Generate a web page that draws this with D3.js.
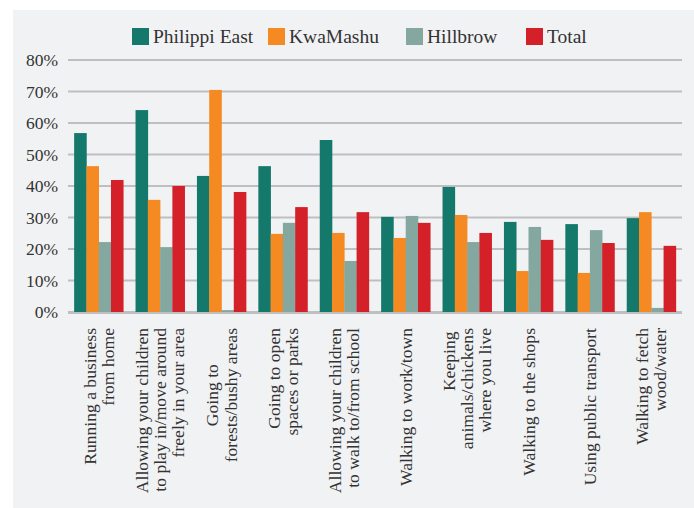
<!DOCTYPE html>
<html>
<head>
<meta charset="utf-8">
<script src="https://cdn.jsdelivr.net/npm/d3@7"></script>
<style>
  html, body { margin: 0; padding: 0; background: #ffffff; }
  svg { display: block; }
  text { font-family: "Liberation Serif", serif; fill: #333333; }
</style>
</head>
<body>
<svg id="chart" width="694" height="508"></svg>
<script>
// ---- data ----
const categories = [
  "Running a business from home",
  "Allowing your children to play in/move around freely in your area",
  "Going to forests/bushy areas",
  "Going to open spaces or parks",
  "Allowing your children to walk to/from school",
  "Walking to work/town",
  "Keeping animals/chickens where you live",
  "Walking to the shops",
  "Using public transport",
  "Walking to fetch wood/water"
];
const labelLines = [
  ["Running a business", "from home"],
  ["Allowing your children", "to play in/move around", "freely in your area"],
  ["Going to", "forests/bushy areas"],
  ["Going to open", "spaces or parks"],
  ["Allowing your children", "to walk to/from school"],
  ["Walking to work/town"],
  ["Keeping", "animals/chickens", "where you live"],
  ["Walking to the shops"],
  ["Using public transport"],
  ["Walking to fetch", "wood/water"]
];
const series = ["Philippi East", "KwaMashu", "Hillbrow", "Total"];
const philippiEast = [56.8, 64.1, 43.2, 46.3, 54.6, 30.2, 39.7, 28.6, 27.9, 29.8];
const kwaMashu     = [46.3, 35.6, 70.5, 24.8, 25.1, 23.5, 30.8, 13.0, 12.4, 31.7];
const hillbrow     = [22.2, 20.6, 0.6, 28.3, 16.2, 30.5, 22.2, 27.0, 26.0, 1.3];
const total        = [41.9, 40.0, 38.1, 33.3, 31.7, 28.3, 25.1, 22.9, 21.9, 21.0];
const yTicks = [0, 10, 20, 30, 40, 50, 60, 70, 80];

// ---- styles / layout ----
const colors = ["#14786b", "#f48a21", "#84a89f", "#d42028"];
const seriesValues = [philippiEast, kwaMashu, hillbrow, total];
const legendX = [132, 268, 406, 526];
const centeredLines = { "2-0": true };
const lineShift = { "6-0": 3.5 };

const svg = d3.select("#chart");
svg.append("rect").attr("x", 13).attr("y", 10).attr("width", 694 - 13).attr("height", 508 - 10)
  .attr("fill", "#f1f2f4");

const plotL = 68, plotR = 682, plotT = 60, plotB = 312;
const x = d3.scaleBand().domain(categories).range([plotL, plotR]).paddingInner(0.2).paddingOuter(0.1);
const xs = d3.scaleBand().domain(series).range([0, x.bandwidth()]);
const y = d3.scaleLinear().domain([0, 80]).range([plotB, plotT]);

// gridlines
svg.append("g").selectAll("line").data(yTicks).join("line")
  .attr("x1", plotL).attr("x2", plotR)
  .attr("y1", d => y(d)).attr("y2", d => y(d))
  .attr("stroke", "#bfbfc1").attr("stroke-width", 2.2);

// y axis labels
const yAxis = d3.axisLeft(y).tickValues(yTicks).tickFormat(d => d + "%").tickSize(0).tickPadding(10);
const ya = svg.append("g").attr("transform", `translate(${plotL},0)`).call(yAxis);
ya.select(".domain").remove();
ya.selectAll("text").attr("font-family", "Liberation Serif").attr("font-size", 17.5)
  .attr("fill", "#333").attr("dy", "0.34em");

// bars
const rows = categories.map((c, i) => ({ c, vals: series.map((s, j) => ({ s, j, v: seriesValues[j][i] })) }));
const groups = svg.append("g").selectAll("g").data(rows).join("g")
  .attr("transform", d => `translate(${x(d.c)},0)`);
groups.selectAll("rect").data(d => d.vals).join("rect")
  .attr("x", d => xs(d.s))
  .attr("width", xs.bandwidth() + 0.3)
  .attr("y", d => y(d.v))
  .attr("height", d => y(0) - y(d.v))
  .attr("fill", d => colors[d.j]);

// redraw baseline on top
svg.append("line").attr("x1", plotL).attr("x2", plotR).attr("y1", y(0) + 1).attr("y2", y(0) + 1)
  .attr("stroke", "#bfbfc1").attr("stroke-width", 2.2);

// category labels
const lh = 18.3, labelTop = 328, labelOff = 6;
categories.forEach((c, i) => {
  const lines = labelLines[i];
  const cx = x(c) + x.bandwidth() / 2;
  const g = svg.append("g");
  const bxOf = k => cx + (k - (lines.length - 1) / 2) * lh + labelOff;
  const texts = lines.map((ln, k) => {
    const shift = lineShift[i + "-" + k] || 0;
    return g.append("text")
      .attr("transform", `translate(${bxOf(k)},${labelTop + shift}) rotate(-90)`)
      .attr("text-anchor", "end")
      .attr("font-size", 17.6)
      .text(ln);
  });
  const maxLen = d3.max(texts, t => t.node().getComputedTextLength());
  texts.forEach((t, k) => {
    if (centeredLines[i + "-" + k]) {
      t.attr("text-anchor", "middle")
        .attr("transform", `translate(${bxOf(k)},${labelTop + maxLen / 2}) rotate(-90)`);
    }
  });
});

// legend
const lg = svg.append("g").selectAll("g").data(series).join("g")
  .attr("transform", (d, i) => `translate(${legendX[i]},28)`);
lg.append("rect").attr("width", 17).attr("height", 17).attr("fill", (d, i) => colors[i]);
lg.append("text").attr("x", 21).attr("y", 15.3).attr("font-size", 19.5).text(d => d);
</script>
</body>
</html>
